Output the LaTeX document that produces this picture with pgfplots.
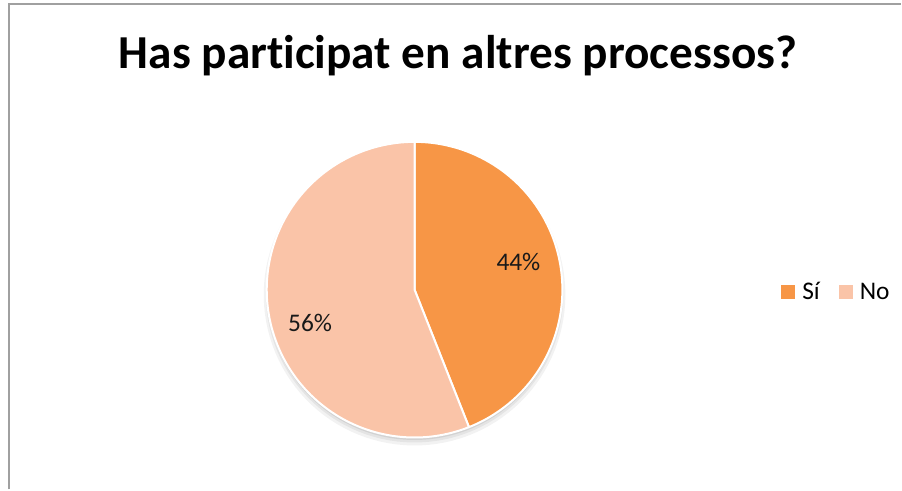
\documentclass[border=0pt]{standalone}
\usepackage{pgfplots}
\pgfplotsset{compat=1.18}
\usepackage{fontspec}
\setmainfont{Carlito}[RawFeature={-liga;-clig;-dlig}]
\definecolor{si}{HTML}{F79646}
\definecolor{no}{HTML}{FAC4A8}
\definecolor{frame}{HTML}{A0A0A0}
\begin{document}
\begin{tikzpicture}[x=1bp,y=1bp]
\def\cx{415}\def\cy{200}\def\R{148}
\def\pSi{44}\def\pNo{56}
\pgfmathsetmacro\aEnd{90-3.6*\pSi}
\pgfmathsetmacro\bEnd{\aEnd-3.6*\pNo}
\path (0,0) rectangle (902,490);
\begin{axis}[
  at={(0,0)}, anchor=south west,
  scale only axis, width=902bp, height=490bp,
  xmin=0, xmax=902, ymin=0, ymax=490,
  hide axis, clip=false,
  legend style={at={(axis cs:779,198)}, anchor=west, draw=none, fill=none,
    font=\fontsize{25.5}{30}\selectfont,
    nodes={font=\fontsize{25.5}{30}\selectfont, inner sep=1bp},
    legend columns=2,
    /tikz/every odd column/.append style={column sep=6bp},
    /tikz/every even column/.append style={column sep=18bp}},
  legend image code/.code={\fill[#1,draw=none] (0bp,-7bp) rectangle (14bp,7bp);},
]
\addplot[forget plot, fill=black, opacity=0.05, draw=none, domain=0:360, samples=120] ({\cx+(\R+3)*cos(x)},{\cy-5+(\R+3)*sin(x)});
\addplot[forget plot, fill=black, opacity=0.06, draw=none, domain=0:360, samples=120] ({\cx+(\R+1)*cos(x)},{\cy-4+(\R+1)*sin(x)});
\addplot[forget plot, fill=black, opacity=0.08, draw=none, domain=0:360, samples=120] ({\cx+\R*cos(x)},{\cy-2.5+\R*sin(x)});
\addplot[fill=si, draw=white, line width=2bp, line join=round, domain=\aEnd:90, samples=100]
  ({\cx+\R*cos(x)},{\cy+\R*sin(x)}) -- (axis cs:\cx,\cy) -- cycle;
\addlegendentry{Sí}
\addplot[fill=no, draw=white, line width=2bp, line join=round, domain=\bEnd:\aEnd, samples=120]
  ({\cx+\R*cos(x)},{\cy+\R*sin(x)}) -- (axis cs:\cx,\cy) -- cycle;
\addlegendentry{No}
\node[font=\fontsize{25.5}{30}\selectfont, text=black!90] at (axis cs:519,227.5) {44\%};
\node[font=\fontsize{25.5}{30}\selectfont, text=black!90] at (axis cs:310.5,166.5) {56\%};
\end{axis}
\draw[frame, line width=2bp] (9,0) -- (9,486) -- (902,486);
\node[font=\bfseries\fontsize{47.5}{56}\selectfont, anchor=base] at (458.5,421) {Has participat en altres processos?};
\end{tikzpicture}
\end{document}
